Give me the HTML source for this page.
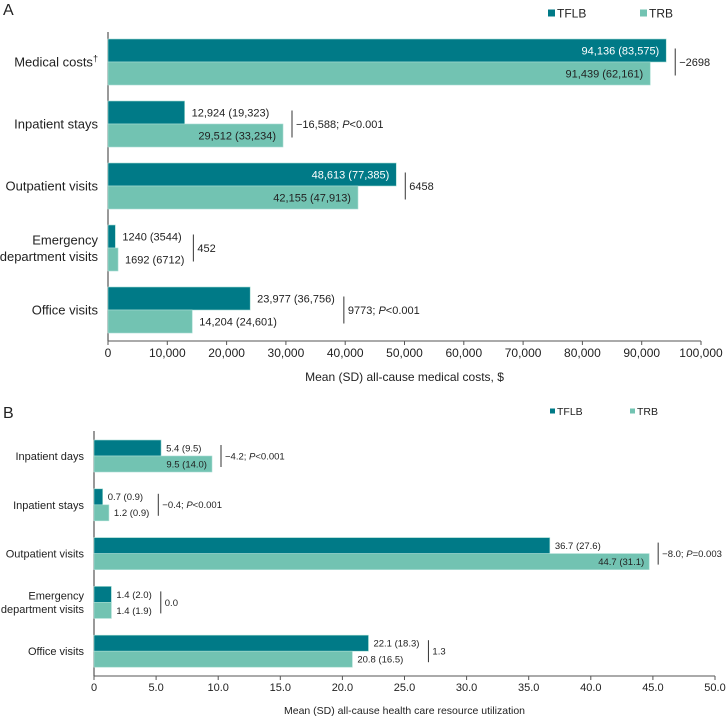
<!DOCTYPE html>
<html><head><meta charset="utf-8"><style>
body{margin:0;background:#fff;}
svg{display:block;font-family:"Liberation Sans",Arial,sans-serif;}
</style></head><body>
<svg id="chart" width="728" height="718" viewBox="0 0 728 718" xmlns="http://www.w3.org/2000/svg"></svg>
<script>
// Panel A data
const catsA = ["Medical costs", "Inpatient stays", "Outpatient visits", "Emergency|department visits", "Office visits"];
const tflbA = [94136, 12924, 48613, 1240, 23977];
const tflbSdA = [83575, 19323, 77385, 3544, 36756];
const trbA = [91439, 29512, 42155, 1692, 14204];
const trbSdA = [62161, 33234, 47913, 6712, 24601];
const tflbInA = [true, false, true, false, false];
const trbInA = [true, true, true, false, false];
const diffA = ["\u22122698", "\u221216,588", "6458", "452", "9773"];
const pA = ["", "<0.001", "", "", "<0.001"];
const ticksA = [0,10000,20000,30000,40000,50000,60000,70000,80000,90000,100000];
// Panel B data
const catsB = ["Inpatient days", "Inpatient stays", "Outpatient visits", "Emergency|department visits", "Office visits"];
const tflbB = [5.4, 0.7, 36.7, 1.4, 22.1];
const tflbSdB = [9.5, 0.9, 27.6, 2.0, 18.3];
const trbB = [9.5, 1.2, 44.7, 1.4, 20.8];
const trbSdB = [14.0, 0.9, 31.1, 1.9, 16.5];
const tflbInB = [false, false, false, false, false];
const trbInB = [true, false, true, false, false];
const diffB = ["\u22124.2", "\u22120.4", "\u22128.0", "0.0", "1.3"];
const pB = ["<0.001", "<0.001", "=0.003", "", ""];
const ticksB = [0,5,10,15,20,25,30,35,40,45,50];

const DARK="#007a87", LIGHT="#72c3b2", TXT="#222";
const svg=document.getElementById('chart');
const NS="http://www.w3.org/2000/svg";
function el(tag,attrs,parent){const e=document.createElementNS(NS,tag);for(const k in attrs)e.setAttribute(k,attrs[k]);(parent||svg).appendChild(e);return e;}
function textW(t,fs){let w=0;try{w=t.getComputedTextLength();}catch(e){w=0;}if(!w)w=t.textContent.length*fs*0.53;return w;}

function panel(o){
  const g=el('g',{});
  
  
  const x=v=>o.x0+(v-o.min)/(o.max-o.min)*(o.x1-o.x0);
  const L=el('text',{x:3,y:o.letterY,'font-size':16,fill:TXT},g);L.textContent=o.letter;
  
  
  [[o.legX[0],'TFLB',DARK],[o.legX[1],'TRB',LIGHT]].forEach(([lx,t,c])=>{
    const r=el('rect',{x:lx,y:o.legY-o.sq/2,width:o.sq,height:o.sq,fill:c},g);
    
    
    const tt=el('text',{x:lx+o.sq+2,y:o.legY+o.legFs*0.36,'font-size':o.legFs,fill:TXT},g);tt.textContent=t;
    
    
  });
  const ya=el('line',{x1:o.x0,y1:o.axTop,x2:o.x0,y2:o.axY,stroke:'#333','stroke-width':1},g);
  
  
  const xa=el('line',{x1:o.x0,y1:o.axY,x2:o.x1,y2:o.axY,stroke:'#555','stroke-width':1},g);
  
  
  o.ticks.forEach(t=>{
    const tx=x(t);
    el('line',{x1:tx,y1:o.axY,x2:tx,y2:o.axY+4,stroke:'#555'},g);
    const tl=el('text',{x:tx,y:o.tickY,'font-size':o.tickFs,fill:TXT,'text-anchor':'middle'},g);
    tl.textContent=o.fmtTick(t);
    
    
  });
  const at=el('text',{x:(o.x0+o.x1)/2,y:o.titleY,'font-size':o.titleFs,fill:TXT,'text-anchor':'middle'},g);
  at.textContent=o.title;
  
  
  o.cats.forEach((c,i)=>{
    const y0=o.top+i*o.pitch, yc=y0+o.bh;
    const parts=c.split('|');
    parts.forEach((p,j)=>{
      const t=el('text',{x:o.x0-10,y:yc+o.catFs*0.36+(j-(parts.length-1)/2)*o.catFs*1.25,'font-size':o.catFs,fill:TXT,'text-anchor':'end'},g);
      t.textContent=p;
      if(o.dagger&&i===0){const s=el('tspan',{'font-size':o.catFs*0.7,dy:-o.catFs*0.4},t);s.textContent='\u2020';}
      
      
    });
    let maxEnd=0;
    [[o.a[i],o.aSd[i],o.aIn[i],DARK,'#fff',0,'tflb'],[o.b[i],o.bSd[i],o.bIn[i],LIGHT,TXT,1,'trb']].forEach(([v,sd,inside,col,inCol,k,nm])=>{
      const by=y0+k*o.bh;
      const r=el('rect',{x:o.x0,y:by,width:x(v)-o.x0,height:o.bh,fill:col,stroke:'#a8ddd2','stroke-width':0.6},g);
      
      
      const lbl=o.fmtVal(v)+' ('+o.fmtVal(sd)+')';
      const t=el('text',{y:by+o.bh/2+o.valFs*0.36,'font-size':o.valFs,fill:inside?inCol:TXT},g);
      t.textContent=lbl;
      
      
      if(inside){t.setAttribute('x',x(v)-o.pad);t.setAttribute('text-anchor','end');maxEnd=Math.max(maxEnd,x(v));}
      else{t.setAttribute('x',x(v)+o.pad);maxEnd=Math.max(maxEnd,x(v)+o.pad+textW(t,o.valFs));}
    });
    const lx=maxEnd+o.gap;
    const ln=el('line',{x1:lx,y1:yc-o.lineH/2,x2:lx,y2:yc+o.lineH/2,stroke:'#333','stroke-width':1},g);
    
    
    const dt=el('text',{x:lx+4,y:yc+o.valFs*0.36,'font-size':o.valFs,fill:TXT},g);
    dt.textContent=o.diff[i]+(o.p[i]?'; ':'');
    if(o.p[i]){const s=el('tspan',{'font-style':'italic'},dt);s.textContent='P';const s2=el('tspan',{},dt);s2.textContent=o.p[i];}
    
    
  });
}
const fmtA=v=>v>=10000?v.toLocaleString('en-US'):String(v);
panel({name:'panel-a-costs',letter:'A',letterY:15,legX:[548,640],legY:13,sq:7,legFs:12,
  x0:108,x1:701,min:0,max:100000,ticks:ticksA,axTop:32,axY:341,tickY:357,tickFs:12,titleY:381,titleFs:12,
  title:'Mean (SD) all-cause medical costs, $',fmtTick:fmtA,fmtVal:fmtA,
  cats:catsA,a:tflbA,aSd:tflbSdA,b:trbA,bSd:trbSdA,aIn:tflbInA,bIn:trbInA,diff:diffA,p:pA,
  top:39,pitch:62,bh:23,catFs:13,valFs:11,pad:7,gap:9,lineH:27,dagger:true});
const fmtB=v=>v.toFixed(1);
panel({name:'panel-b-utilization',letter:'B',letterY:418,legX:[550,630],legY:411,sq:5,legFs:10.5,
  x0:94,x1:715,min:0,max:50,ticks:ticksB,axTop:431,axY:676,tickY:691,tickFs:11,titleY:714,titleFs:10.5,
  title:'Mean (SD) all-cause health care resource utilization',fmtTick:t=>t===0?'0':t.toFixed(1),fmtVal:fmtB,
  cats:catsB,a:tflbB,aSd:tflbSdB,b:trbB,bSd:trbSdB,aIn:tflbInB,bIn:trbInB,diff:diffB,p:pB,
  top:440,pitch:48.8,bh:16,catFs:11,valFs:9.5,pad:5,gap:9,lineH:22,dagger:false});
</script>
</body></html>
